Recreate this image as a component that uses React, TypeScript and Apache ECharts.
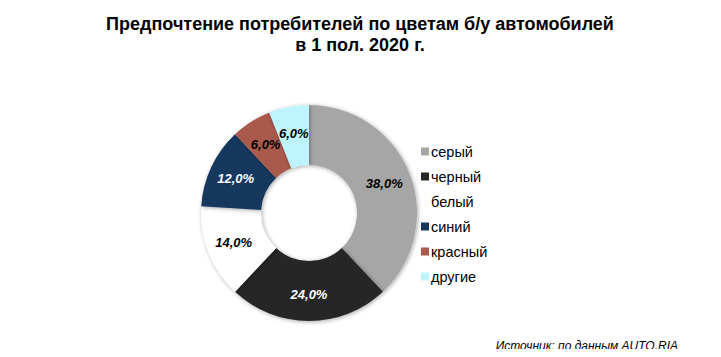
import React, { useEffect, useRef } from "react";
import * as echarts from "echarts";

const categories = ["серый", "черный", "белый", "синий", "красный", "другие"];
const values = [38, 24, 14, 12, 6, 6];
const colors = ["#A6A6A6", "#262626", "#FFFFFF", "#17375E", "#AA5A4E", "#BDF4FD"];
const labelColors = ["#000", "#fff", "#000", "#fff", "#000", "#000"];

export default function App() {
  const ref = useRef<HTMLDivElement>(null);
  useEffect(() => {
    const chart = echarts.init(ref.current!, null, { renderer: "svg" });
    chart.setOption({
      animation: false,
      backgroundColor: "#fff",
      title: {
        text: "Предпочтение потребителей по цветам б/у автомобилей\nв 1 пол. 2020 г.",
        left: 352,
        textAlign: "center",
        top: 5,
        padding: 0,
        textStyle: {
          fontFamily: "Liberation Sans, Arial",
          fontSize: 18,
          fontWeight: "bold",
          color: "#000",
          lineHeight: 21,
        },
      },
      legend: {
        orient: "vertical",
        left: 413,
        top: 136,
        padding: 0,
        itemWidth: 8,
        itemHeight: 8,
        itemGap: 10,
        icon: "rect",
        data: categories,
        textStyle: {
          fontFamily: "Liberation Sans, Arial",
          fontSize: 14.5,
          color: "#000",
          padding: [0, 0, 0, -3],
        },
      },
      graphic: [
        {
          type: "text",
          x: 670,
          y: 338,
          style: {
            text: "Источник: по данным AUTO.RIA",
            fontFamily: "Liberation Sans, Arial",
            fontSize: 12,
            fontStyle: "italic",
            fill: "#000",
            align: "right",
            verticalAlign: "middle",
          },
        },
      ],
      series: [
        {
          type: "pie",
          center: [301, 205],
          radius: [48, 108],
          startAngle: 90,
          clockwise: true,
          avoidLabelOverlap: false,
          labelLayout: { hideOverlap: false },
          itemStyle: {
            shadowBlur: 4,
            shadowColor: "rgba(0,0,0,0.35)",
            shadowOffsetX: 1,
            shadowOffsetY: 1,
          },
          label: {
            position: "inside",
            formatter: (p: any) => p.value.toFixed(1).replace(".", ",") + "%",
            fontFamily: "Liberation Sans, Arial",
            fontSize: 13,
            fontWeight: "bold",
            fontStyle: "italic",
          },
          labelLine: { show: false },
          data: categories.map((c, i) => ({
            name: c,
            value: values[i],
            itemStyle: { color: colors[i] },
            label: { color: labelColors[i] },
          })),
        },
      ],
    });
    return () => chart.dispose();
  }, []);
  return <div ref={ref} style={{ width: 705, height: 349, marginBottom: -8 }} />;
}
